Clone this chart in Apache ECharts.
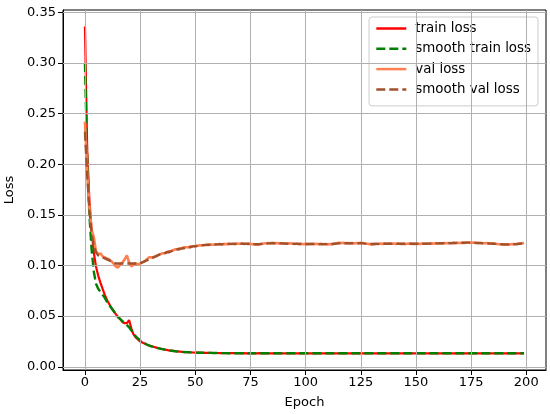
<!DOCTYPE html>
<html>
<head>
<meta charset="utf-8">
<script src="https://cdn.jsdelivr.net/npm/echarts@6/dist/echarts.min.js"></script>
<style>
  html, body { margin: 0; padding: 0; background: #fff; }
  #chart { width: 550px; height: 414px; }
</style>
</head>
<body>
<div id="chart"></div>
<script>
// loss per epoch (index = epoch 0..199)
var trainLoss = [
  0.336,0.215,0.165,0.135,0.113,0.099,0.090,0.083,0.077,0.071,
  0.066,0.062,0.058,0.055,0.052,0.049,0.047,0.044,0.043,0.043,
  0.046,0.038,0.032,0.029,0.027,0.025,0.024,0.023,0.022,0.021,
  0.0205,0.0198,0.0191,0.0185,0.0180,0.0175,0.0170,0.0166,0.0162,0.0159,
  0.0156,0.0153,0.0151,0.0149,0.0147,0.0145,0.0144,0.0143,0.0142,0.0141,
  0.0140,0.0139,0.0139,0.0138,0.0138,0.0137,0.0137,0.0137,0.0136,0.0136,
  0.0136,0.0135,0.0135,0.0135,0.0135,0.0134,0.0134,0.0134,0.0134,0.0134,
  0.0134,0.0133,0.0134,0.0133,0.0133,0.0134,0.0133,0.0133,0.0133,0.0134,
  0.0133,0.0133,0.0133,0.0132,0.0133,0.0133,0.0134,0.0133,0.0133,0.0133,
  0.0133,0.0132,0.0133,0.0133,0.0133,0.0133,0.0132,0.0133,0.0133,0.0133,
  0.0133,0.0133,0.0132,0.0133,0.0133,0.0133,0.0133,0.0132,0.0133,0.0133,
  0.0133,0.0132,0.0133,0.0133,0.0132,0.0133,0.0133,0.0133,0.0132,0.0133,
  0.0133,0.0133,0.0132,0.0133,0.0133,0.0132,0.0133,0.0133,0.0133,0.0132,
  0.0133,0.0133,0.0132,0.0133,0.0133,0.0133,0.0132,0.0133,0.0133,0.0132,
  0.0133,0.0133,0.0133,0.0132,0.0133,0.0133,0.0132,0.0133,0.0133,0.0133,
  0.0132,0.0133,0.0133,0.0132,0.0133,0.0133,0.0133,0.0132,0.0133,0.0133,
  0.0133,0.0132,0.0133,0.0133,0.0132,0.0133,0.0133,0.0133,0.0132,0.0133,
  0.0133,0.0133,0.0132,0.0133,0.0133,0.0132,0.0133,0.0133,0.0133,0.0132,
  0.0133,0.0133,0.0132,0.0133,0.0133,0.0133,0.0132,0.0133,0.0133,0.0132,
  0.0133,0.0133,0.0133,0.0132,0.0133,0.0133,0.0132,0.0133,0.0133,0.0133
];
var smoothTrainLoss = [
  0.300,0.205,0.150,0.116,0.094,0.082,0.077,0.074,0.071,0.068,
  0.064,0.061,0.058,0.055,0.052,0.049,0.047,0.045,0.043,0.041,
  0.039,0.036,0.033,0.030,0.028,0.026,0.0245,0.0232,0.0220,0.0210,
  0.0202,0.0195,0.0189,0.0184,0.0179,0.0174,0.0170,0.0166,0.0162,0.0159,
  0.0156,0.0153,0.0151,0.0149,0.0147,0.0145,0.0144,0.0143,0.0142,0.0141,
  0.0140,0.0139,0.0139,0.0138,0.0138,0.0137,0.0137,0.0137,0.0136,0.0136,
  0.0136,0.0135,0.0135,0.0135,0.0135,0.0134,0.0134,0.0134,0.0134,0.0134,
  0.0134,0.0134,0.0134,0.0133,0.0133,0.0133,0.0133,0.0133,0.0133,0.0133,
  0.0133,0.0133,0.0133,0.0133,0.0133,0.0133,0.0133,0.0133,0.0133,0.0133,
  0.0133,0.0133,0.0133,0.0133,0.0133,0.0133,0.0133,0.0133,0.0133,0.0133,
  0.0133,0.0133,0.0133,0.0133,0.0133,0.0133,0.0133,0.0133,0.0133,0.0133,
  0.0133,0.0133,0.0133,0.0133,0.0133,0.0133,0.0133,0.0133,0.0133,0.0133,
  0.0133,0.0133,0.0133,0.0133,0.0133,0.0133,0.0133,0.0133,0.0133,0.0133,
  0.0133,0.0133,0.0133,0.0133,0.0133,0.0133,0.0133,0.0133,0.0133,0.0133,
  0.0133,0.0133,0.0133,0.0133,0.0133,0.0133,0.0133,0.0133,0.0133,0.0133,
  0.0133,0.0133,0.0133,0.0133,0.0133,0.0133,0.0133,0.0133,0.0133,0.0133,
  0.0133,0.0133,0.0133,0.0133,0.0133,0.0133,0.0133,0.0133,0.0133,0.0133,
  0.0133,0.0133,0.0133,0.0133,0.0133,0.0133,0.0133,0.0133,0.0133,0.0133,
  0.0133,0.0133,0.0133,0.0133,0.0133,0.0133,0.0133,0.0133,0.0133,0.0133,
  0.0133,0.0133,0.0133,0.0133,0.0133,0.0133,0.0133,0.0133,0.0133,0.0133
];
var valLoss = [
  0.242,0.195,0.158,0.135,0.128,0.114,0.111,0.112,0.109,0.108,
  0.107,0.106,0.104,0.102,0.099,0.098,0.101,0.103,0.106,0.110,
  0.103,0.099,0.101,0.102,0.101,0.102,0.103,0.104,0.106,0.108,
  0.108,0.108,0.109,0.110,0.111,0.112,0.112,0.113,0.114,0.114,
  0.115,0.116,0.116,0.117,0.117,0.118,0.118,0.118,0.119,0.119,
  0.119,0.1195,0.1198,0.1200,0.1202,0.1205,0.1203,0.1207,0.1205,0.1208,
  0.1210,0.1212,0.1208,0.1213,0.1210,0.1215,0.1212,0.1214,0.1210,0.1216,
  0.1214,0.1216,0.1212,0.1215,0.1217,0.1213,0.1211,0.1209,0.1206,0.1208,
  0.1212,0.1216,0.1219,0.1222,0.1220,0.1223,0.1219,0.1221,0.1218,0.1220,
  0.1217,0.1220,0.1216,0.1219,0.1215,0.1213,0.1216,0.1212,0.1214,0.1210,
  0.1213,0.1209,0.1212,0.1215,0.1211,0.1214,0.1210,0.1213,0.1209,0.1212,
  0.1208,0.1211,0.1209,0.1214,0.1219,0.1224,0.1221,0.1223,0.1219,0.1222,
  0.1218,0.1221,0.1217,0.1222,0.1219,0.1224,0.1221,0.1217,0.1214,0.1211,
  0.1208,0.1211,0.1214,0.1212,0.1216,0.1213,0.1217,0.1215,0.1218,0.1214,
  0.1217,0.1213,0.1216,0.1212,0.1215,0.1211,0.1214,0.1216,0.1213,0.1215,
  0.1212,0.1215,0.1213,0.1216,0.1214,0.1217,0.1215,0.1218,0.1216,0.1219,
  0.1217,0.1220,0.1218,0.1221,0.1219,0.1222,0.1220,0.1223,0.1221,0.1224,
  0.1222,0.1225,0.1223,0.1226,0.1227,0.1224,0.1226,0.1223,0.1221,0.1224,
  0.1221,0.1219,0.1222,0.1218,0.1216,0.1219,0.1215,0.1212,0.1209,0.1207,
  0.1205,0.1208,0.1206,0.1209,0.1212,0.1209,0.1213,0.1216,0.1219,0.1221
];
var smoothValLoss = [
  0.232,0.190,0.155,0.132,0.120,0.113,0.110,0.109,0.108,0.107,
  0.106,0.105,0.104,0.103,0.102,0.102,0.102,0.102,0.102,0.102,
  0.102,0.102,0.102,0.102,0.102,0.102,0.103,0.104,0.105,0.106,
  0.107,0.108,0.109,0.110,0.111,0.111,0.112,0.113,0.113,0.114,
  0.115,0.115,0.116,0.116,0.117,0.117,0.118,0.118,0.118,0.119,
  0.1190,0.1193,0.1196,0.1199,0.1201,0.1203,0.1204,0.1205,0.1206,0.1207,
  0.1208,0.1209,0.1210,0.1211,0.1212,0.1212,0.1213,0.1213,0.1214,0.1214,
  0.1214,0.1214,0.1214,0.1213,0.1212,0.1211,0.1210,0.1210,0.1210,0.1211,
  0.1213,0.1215,0.1217,0.1218,0.1219,0.1220,0.1220,0.1219,0.1219,0.1218,
  0.1217,0.1216,0.1215,0.1215,0.1214,0.1213,0.1213,0.1212,0.1212,0.1212,
  0.1212,0.1212,0.1212,0.1212,0.1212,0.1212,0.1211,0.1211,0.1211,0.1211,
  0.1211,0.1211,0.1212,0.1214,0.1216,0.1218,0.1219,0.1220,0.1220,0.1220,
  0.1220,0.1220,0.1220,0.1220,0.1220,0.1219,0.1218,0.1216,0.1214,0.1213,
  0.1212,0.1212,0.1213,0.1213,0.1214,0.1214,0.1215,0.1215,0.1215,0.1215,
  0.1215,0.1215,0.1214,0.1214,0.1214,0.1214,0.1214,0.1214,0.1214,0.1214,
  0.1214,0.1214,0.1214,0.1215,0.1215,0.1216,0.1216,0.1217,0.1217,0.1218,
  0.1218,0.1219,0.1219,0.1220,0.1220,0.1221,0.1221,0.1222,0.1222,0.1223,
  0.1223,0.1224,0.1224,0.1225,0.1225,0.1225,0.1224,0.1223,0.1222,0.1221,
  0.1220,0.1219,0.1218,0.1217,0.1216,0.1215,0.1213,0.1212,0.1210,0.1209,
  0.1208,0.1208,0.1208,0.1209,0.1210,0.1211,0.1212,0.1214,0.1216,0.1218
];
var xTicks = [0, 25, 50, 75, 100, 125, 150, 175, 200];
var yTicks = [0, 0.05, 0.10, 0.15, 0.20, 0.25, 0.30, 0.35];

var font = 'DejaVu Sans';

function pairs(arr) {
  return arr.map(function (v, i) { return [i, v]; });
}

var myChart = echarts.init(document.getElementById('chart'));
// grid lines drawn at the tick values (axis ticks start at min otherwise)
var gridLines = xTicks.map(function (v) { return { xAxis: v }; })
  .concat(yTicks.map(function (v) { return { yAxis: v }; }));

var option = {
  animation: false,
  backgroundColor: '#ffffff',
  grid: {
    left: 63, right: 4, top: 10, bottom: 44,
    outerBoundsMode: 'none',
    containLabel: false,
    show: true, borderColor: '#000', borderWidth: 1
  },
  legend: {
    data: ['train loss', 'smooth train loss', 'val loss', 'smooth val loss'],
    orient: 'vertical',
    right: 12,
    top: 17,
    itemWidth: 30,
    itemHeight: 14,
    itemGap: 7.3,
    padding: [5, 7, 10, 6],
    borderColor: '#cccccc',
    borderWidth: 1,
    borderRadius: 3,
    backgroundColor: 'rgba(255,255,255,0.8)',
    itemStyle: { opacity: 0 },
    lineStyle: { width: 2.5 },
    textStyle: { fontFamily: font, fontSize: 13.4, color: '#000', padding: [0, 0, 0, 4] }
  },
  xAxis: {
    type: 'value',
    min: -9.95,
    max: 208.95,
    name: 'Epoch',
    nameLocation: 'middle',
    nameGap: 26,
    nameTextStyle: { fontFamily: font, fontSize: 13, color: '#000' },
    axisLine: { show: true, onZero: false, lineStyle: { color: '#000', width: 1 } },
    axisTick: { show: true, length: 5, customValues: xTicks, lineStyle: { color: '#000' } },
    axisLabel: { customValues: xTicks, margin: 6, fontFamily: font, fontSize: 13, color: '#000' },
    splitLine: { show: false }
  },
  yAxis: {
    type: 'value',
    min: -0.0032,
    max: 0.3522,
    name: 'Loss',
    nameLocation: 'middle',
    nameRotate: 90,
    nameGap: 45,
    nameTextStyle: { fontFamily: font, fontSize: 13, color: '#000' },
    axisLine: { show: true, onZero: false, lineStyle: { color: '#000', width: 1 } },
    axisTick: { show: true, length: 5, customValues: yTicks, lineStyle: { color: '#000' } },
    axisLabel: {
      customValues: yTicks, margin: 7, fontFamily: font, fontSize: 13, color: '#000',
      formatter: function (v) { return v.toFixed(2); }
    },
    splitLine: { show: false }
  },
  series: [
    {
      name: 'grid',
      type: 'line',
      data: [],
      symbol: 'none',
      silent: true,
      z: 1,
      markLine: {
        silent: true,
        symbol: 'none',
        animation: false,
        label: { show: false },
        lineStyle: { color: '#b0b0b0', width: 1, type: 'solid' },
        emphasis: { disabled: true },
        data: gridLines
      }
    },
    {
      name: 'train loss',
      type: 'line',
      data: pairs(trainLoss),
      symbol: 'none',
      z: 3,
      lineStyle: { color: '#ff0000', width: 2.2 },
      itemStyle: { color: '#ff0000' }
    },
    {
      name: 'smooth train loss',
      type: 'line',
      data: pairs(smoothTrainLoss),
      symbol: 'none',
      z: 4,
      lineStyle: { color: '#008000', width: 2.4, type: [9, 4] },
      itemStyle: { color: '#008000' }
    },
    {
      name: 'val loss',
      type: 'line',
      data: pairs(valLoss),
      symbol: 'none',
      z: 5,
      lineStyle: { color: '#ff7f50', width: 2.6 },
      itemStyle: { color: '#ff7f50' }
    },
    {
      name: 'smooth val loss',
      type: 'line',
      data: pairs(smoothValLoss),
      symbol: 'none',
      z: 6,
      lineStyle: { color: '#a0522d', width: 2.4, type: [9, 4] },
      itemStyle: { color: '#a0522d' }
    }
  ]
};
myChart.setOption(option);
</script>
</body>
</html>
